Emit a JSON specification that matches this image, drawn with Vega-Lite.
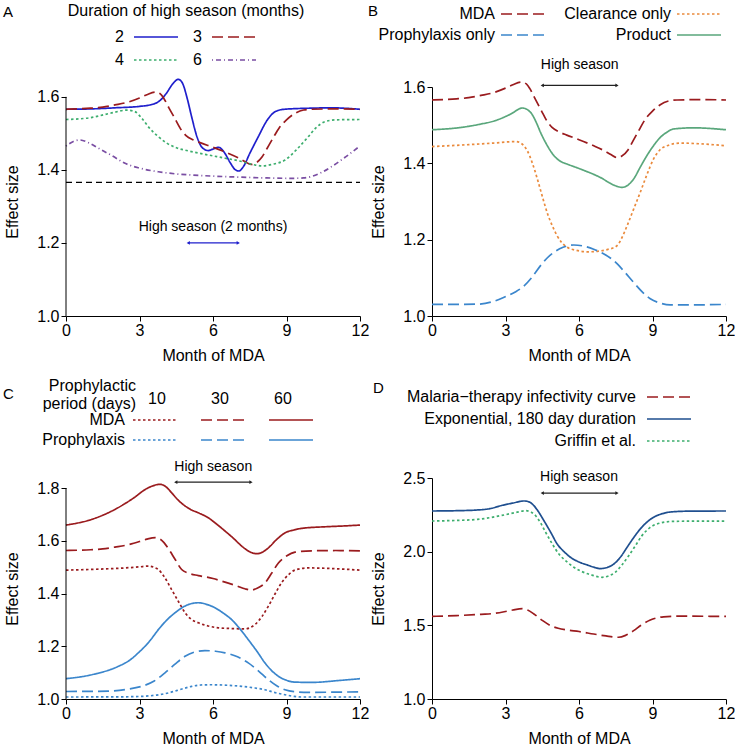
{
"$schema": "https://vega.github.io/schema/vega-lite/v6.json",
"background": "white",
"padding": {"left": 3, "top": 3, "right": 0, "bottom": 0},
"config": {
  "font": "Liberation Sans",
  "view": {"stroke": null},
  "axis": {"grid": false, "domainColor": "#000", "tickColor": "#000", "labelColor": "#000", "titleColor": "#000", "labelFontSize": 16, "titleFontSize": 16, "titleFontWeight": "normal", "tickSize": 5, "domainWidth": 1, "tickWidth": 1, "labelFlush": false, "labelOverlap": false},
  "axisX": {"labelPadding": 1, "titlePadding": 9},
  "axisY": {"labelPadding": 2, "titlePadding": 16},
  "legend": {"labelFontSize": 16, "titleFontSize": 16, "titleFontWeight": "normal", "labelColor": "#000", "titleColor": "#000", "symbolSize": 121, "symbolType": "M-4,0H4", "symbolOffset": 6, "symbolStrokeWidth": 1.6, "labelLimit": 0, "titleLimit": 0, "labelAlign": "right", "labelOffset": -40, "rowPadding": 6, "columnPadding": 17},
  "title": {"fontSize": 15, "fontWeight": "normal", "anchor": "start", "frame": "group", "color": "#000"}
},
"resolve": {
  "scale": {"color": "independent", "strokeDash": "independent", "strokeWidth": "independent", "shape": "independent"},
  "legend": {"color": "independent", "strokeDash": "independent", "strokeWidth": "independent", "shape": "independent"}
},
"datasets": {
"a": [
{"s":"2","m":0,"v":1.566},{"s":"2","m":1,"v":1.567},{"s":"2","m":2,"v":1.570},{"s":"2","m":3,"v":1.574},{"s":"2","m":3.5,"v":1.579},{"s":"2","m":3.8,"v":1.588},{"s":"2","m":4.1,"v":1.610},{"s":"2","m":4.35,"v":1.635},{"s":"2","m":4.58,"v":1.648},{"s":"2","m":4.75,"v":1.638},{"s":"2","m":4.95,"v":1.595},{"s":"2","m":5.13,"v":1.545},{"s":"2","m":5.35,"v":1.490},{"s":"2","m":5.55,"v":1.462},{"s":"2","m":5.8,"v":1.453},{"s":"2","m":6.0,"v":1.457},{"s":"2","m":6.22,"v":1.462},{"s":"2","m":6.45,"v":1.449},{"s":"2","m":6.7,"v":1.420},{"s":"2","m":6.9,"v":1.401},{"s":"2","m":7.05,"v":1.397},{"s":"2","m":7.25,"v":1.410},{"s":"2","m":7.5,"v":1.445},{"s":"2","m":7.85,"v":1.491},{"s":"2","m":8.2,"v":1.535},{"s":"2","m":8.53,"v":1.559},{"s":"2","m":8.9,"v":1.566},{"s":"2","m":10,"v":1.569},{"s":"2","m":10.8,"v":1.570},{"s":"2","m":12,"v":1.566},
{"s":"3","m":0,"v":1.566},{"s":"3","m":1,"v":1.569},{"s":"3","m":1.5,"v":1.572},{"s":"3","m":2,"v":1.578},{"s":"3","m":2.5,"v":1.585},{"s":"3","m":3,"v":1.597},{"s":"3","m":3.3,"v":1.606},{"s":"3","m":3.65,"v":1.613},{"s":"3","m":3.85,"v":1.608},{"s":"3","m":4.0,"v":1.595},{"s":"3","m":4.2,"v":1.570},{"s":"3","m":4.45,"v":1.540},{"s":"3","m":4.7,"v":1.510},{"s":"3","m":4.9,"v":1.494},{"s":"3","m":5.2,"v":1.482},{"s":"3","m":5.5,"v":1.474},{"s":"3","m":6.0,"v":1.462},{"s":"3","m":6.6,"v":1.446},{"s":"3","m":7.0,"v":1.434},{"s":"3","m":7.3,"v":1.423},{"s":"3","m":7.55,"v":1.415},{"s":"3","m":7.75,"v":1.419},{"s":"3","m":8.0,"v":1.435},{"s":"3","m":8.2,"v":1.458},{"s":"3","m":8.45,"v":1.487},{"s":"3","m":8.7,"v":1.515},{"s":"3","m":9.0,"v":1.537},{"s":"3","m":9.3,"v":1.553},{"s":"3","m":9.7,"v":1.564},{"s":"3","m":10,"v":1.566},{"s":"3","m":11,"v":1.567},{"s":"3","m":12,"v":1.566},
{"s":"4","m":0,"v":1.538},{"s":"4","m":1.0,"v":1.543},{"s":"4","m":1.8,"v":1.555},{"s":"4","m":2.5,"v":1.5637},{"s":"4","m":2.8,"v":1.560},{"s":"4","m":3.1,"v":1.541},{"s":"4","m":3.4,"v":1.515},{"s":"4","m":3.77,"v":1.491},{"s":"4","m":4.1,"v":1.474},{"s":"4","m":4.45,"v":1.462},{"s":"4","m":5.0,"v":1.452},{"s":"4","m":5.8,"v":1.441},{"s":"4","m":6.5,"v":1.432},{"s":"4","m":7.17,"v":1.423},{"s":"4","m":7.6,"v":1.415},{"s":"4","m":8.0,"v":1.411},{"s":"4","m":8.4,"v":1.415},{"s":"4","m":8.94,"v":1.427},{"s":"4","m":9.4,"v":1.455},{"s":"4","m":9.89,"v":1.491},{"s":"4","m":10.2,"v":1.515},{"s":"4","m":10.57,"v":1.532},{"s":"4","m":11,"v":1.537},{"s":"4","m":12,"v":1.538},
{"s":"6","m":0,"v":1.4655},{"s":"6","m":0.3,"v":1.478},{"s":"6","m":0.57,"v":1.482},{"s":"6","m":0.9,"v":1.475},{"s":"6","m":1.33,"v":1.459},{"s":"6","m":1.9,"v":1.438},{"s":"6","m":2.41,"v":1.418},{"s":"6","m":3.0,"v":1.405},{"s":"6","m":3.77,"v":1.395},{"s":"6","m":4.5,"v":1.389},{"s":"6","m":5.13,"v":1.386},{"s":"6","m":6.0,"v":1.383},{"s":"6","m":7.17,"v":1.380},{"s":"6","m":8.2,"v":1.378},{"s":"6","m":9.21,"v":1.377},{"s":"6","m":9.7,"v":1.378},{"s":"6","m":10.02,"v":1.382},{"s":"6","m":10.4,"v":1.392},{"s":"6","m":10.84,"v":1.409},{"s":"6","m":11.4,"v":1.435},{"s":"6","m":12,"v":1.4655}
],
"b": [
{"s":"MDA","m":0,"v":1.566},{"s":"MDA","m":1,"v":1.569},{"s":"MDA","m":1.5,"v":1.572},{"s":"MDA","m":2,"v":1.578},{"s":"MDA","m":2.5,"v":1.585},{"s":"MDA","m":3,"v":1.597},{"s":"MDA","m":3.3,"v":1.606},{"s":"MDA","m":3.65,"v":1.613},{"s":"MDA","m":3.85,"v":1.608},{"s":"MDA","m":4.0,"v":1.595},{"s":"MDA","m":4.2,"v":1.570},{"s":"MDA","m":4.45,"v":1.540},{"s":"MDA","m":4.7,"v":1.510},{"s":"MDA","m":4.9,"v":1.494},{"s":"MDA","m":5.2,"v":1.482},{"s":"MDA","m":5.5,"v":1.474},{"s":"MDA","m":6.0,"v":1.462},{"s":"MDA","m":6.6,"v":1.446},{"s":"MDA","m":7.0,"v":1.434},{"s":"MDA","m":7.3,"v":1.423},{"s":"MDA","m":7.55,"v":1.415},{"s":"MDA","m":7.75,"v":1.419},{"s":"MDA","m":8.0,"v":1.435},{"s":"MDA","m":8.2,"v":1.458},{"s":"MDA","m":8.45,"v":1.487},{"s":"MDA","m":8.7,"v":1.515},{"s":"MDA","m":9.0,"v":1.537},{"s":"MDA","m":9.3,"v":1.553},{"s":"MDA","m":9.7,"v":1.564},{"s":"MDA","m":10,"v":1.566},{"s":"MDA","m":11,"v":1.567},{"s":"MDA","m":12,"v":1.566},
{"s":"Clearance only","m":0,"v":1.444},{"s":"Clearance only","m":1.5,"v":1.449},{"s":"Clearance only","m":2.5,"v":1.453},{"s":"Clearance only","m":3.42,"v":1.457},{"s":"Clearance only","m":3.65,"v":1.452},{"s":"Clearance only","m":3.89,"v":1.433},{"s":"Clearance only","m":4.1,"v":1.400},{"s":"Clearance only","m":4.3,"v":1.359},{"s":"Clearance only","m":4.5,"v":1.314},{"s":"Clearance only","m":4.7,"v":1.271},{"s":"Clearance only","m":4.9,"v":1.238},{"s":"Clearance only","m":5.11,"v":1.21},{"s":"Clearance only","m":5.3,"v":1.192},{"s":"Clearance only","m":5.52,"v":1.18},{"s":"Clearance only","m":5.9,"v":1.172},{"s":"Clearance only","m":6.33,"v":1.168},{"s":"Clearance only","m":6.8,"v":1.170},{"s":"Clearance only","m":7.15,"v":1.174},{"s":"Clearance only","m":7.55,"v":1.184},{"s":"Clearance only","m":7.75,"v":1.205},{"s":"Clearance only","m":7.96,"v":1.236},{"s":"Clearance only","m":8.23,"v":1.28},{"s":"Clearance only","m":8.5,"v":1.324},{"s":"Clearance only","m":8.77,"v":1.37},{"s":"Clearance only","m":9.04,"v":1.411},{"s":"Clearance only","m":9.3,"v":1.435},{"s":"Clearance only","m":9.59,"v":1.446},{"s":"Clearance only","m":10.13,"v":1.453},{"s":"Clearance only","m":11,"v":1.451},{"s":"Clearance only","m":12,"v":1.446},
{"s":"Prophylaxis only","m":0,"v":1.0305},{"s":"Prophylaxis only","m":1,"v":1.0305},{"s":"Prophylaxis only","m":1.86,"v":1.031},{"s":"Prophylaxis only","m":2.5,"v":1.038},{"s":"Prophylaxis only","m":2.94,"v":1.049},{"s":"Prophylaxis only","m":3.4,"v":1.063},{"s":"Prophylaxis only","m":3.76,"v":1.079},{"s":"Prophylaxis only","m":4.1,"v":1.103},{"s":"Prophylaxis only","m":4.43,"v":1.132},{"s":"Prophylaxis only","m":4.7,"v":1.152},{"s":"Prophylaxis only","m":4.98,"v":1.167},{"s":"Prophylaxis only","m":5.35,"v":1.180},{"s":"Prophylaxis only","m":5.79,"v":1.186},{"s":"Prophylaxis only","m":6.2,"v":1.183},{"s":"Prophylaxis only","m":6.6,"v":1.175},{"s":"Prophylaxis only","m":7.0,"v":1.163},{"s":"Prophylaxis only","m":7.42,"v":1.145},{"s":"Prophylaxis only","m":7.8,"v":1.12},{"s":"Prophylaxis only","m":8.23,"v":1.088},{"s":"Prophylaxis only","m":8.6,"v":1.062},{"s":"Prophylaxis only","m":8.91,"v":1.045},{"s":"Prophylaxis only","m":9.3,"v":1.034},{"s":"Prophylaxis only","m":9.72,"v":1.029},{"s":"Prophylaxis only","m":10.5,"v":1.029},{"s":"Prophylaxis only","m":12,"v":1.0305},
{"s":"Product","m":0,"v":1.488},{"s":"Product","m":1.18,"v":1.494},{"s":"Product","m":2.0,"v":1.503},{"s":"Product","m":2.54,"v":1.511},{"s":"Product","m":3.21,"v":1.529},{"s":"Product","m":3.69,"v":1.545},{"s":"Product","m":4.03,"v":1.533},{"s":"Product","m":4.25,"v":1.508},{"s":"Product","m":4.43,"v":1.481},{"s":"Product","m":4.7,"v":1.447},{"s":"Product","m":4.98,"v":1.42},{"s":"Product","m":5.25,"v":1.405},{"s":"Product","m":5.52,"v":1.398},{"s":"Product","m":6.06,"v":1.385},{"s":"Product","m":6.87,"v":1.363},{"s":"Product","m":7.42,"v":1.343},{"s":"Product","m":7.76,"v":1.337},{"s":"Product","m":8.0,"v":1.343},{"s":"Product","m":8.23,"v":1.359},{"s":"Product","m":8.5,"v":1.39},{"s":"Product","m":8.77,"v":1.42},{"s":"Product","m":9.05,"v":1.447},{"s":"Product","m":9.32,"v":1.468},{"s":"Product","m":9.6,"v":1.482},{"s":"Product","m":9.86,"v":1.49},{"s":"Product","m":10.67,"v":1.493},{"s":"Product","m":12,"v":1.488}
],
"c": [
{"k":"MDA-60","p":"60","m":0,"v":1.6595},{"k":"MDA-60","p":"60","m":1.05,"v":1.681},{"k":"MDA-60","p":"60","m":2.0,"v":1.719},{"k":"MDA-60","p":"60","m":2.68,"v":1.757},{"k":"MDA-60","p":"60","m":3.36,"v":1.801},{"k":"MDA-60","p":"60","m":3.84,"v":1.814},{"k":"MDA-60","p":"60","m":4.1,"v":1.803},{"k":"MDA-60","p":"60","m":4.31,"v":1.782},{"k":"MDA-60","p":"60","m":4.6,"v":1.752},{"k":"MDA-60","p":"60","m":4.86,"v":1.732},{"k":"MDA-60","p":"60","m":5.1,"v":1.718},{"k":"MDA-60","p":"60","m":5.4,"v":1.706},{"k":"MDA-60","p":"60","m":5.81,"v":1.687},{"k":"MDA-60","p":"60","m":6.15,"v":1.663},{"k":"MDA-60","p":"60","m":6.49,"v":1.637},{"k":"MDA-60","p":"60","m":6.85,"v":1.608},{"k":"MDA-60","p":"60","m":7.17,"v":1.58},{"k":"MDA-60","p":"60","m":7.5,"v":1.558},{"k":"MDA-60","p":"60","m":7.78,"v":1.551},{"k":"MDA-60","p":"60","m":8.0,"v":1.556},{"k":"MDA-60","p":"60","m":8.26,"v":1.573},{"k":"MDA-60","p":"60","m":8.6,"v":1.605},{"k":"MDA-60","p":"60","m":8.94,"v":1.63},{"k":"MDA-60","p":"60","m":9.3,"v":1.641},{"k":"MDA-60","p":"60","m":9.62,"v":1.647},{"k":"MDA-60","p":"60","m":10.57,"v":1.653},{"k":"MDA-60","p":"60","m":11.3,"v":1.656},{"k":"MDA-60","p":"60","m":12,"v":1.6595},
{"k":"MDA-30","p":"30","m":0,"v":1.563},{"k":"MDA-30","p":"30","m":1,"v":1.566},{"k":"MDA-30","p":"30","m":1.5,"v":1.569},{"k":"MDA-30","p":"30","m":2,"v":1.576},{"k":"MDA-30","p":"30","m":2.5,"v":1.584},{"k":"MDA-30","p":"30","m":3,"v":1.597},{"k":"MDA-30","p":"30","m":3.3,"v":1.606},{"k":"MDA-30","p":"30","m":3.65,"v":1.612},{"k":"MDA-30","p":"30","m":3.85,"v":1.606},{"k":"MDA-30","p":"30","m":4.0,"v":1.593},{"k":"MDA-30","p":"30","m":4.2,"v":1.567},{"k":"MDA-30","p":"30","m":4.45,"v":1.530},{"k":"MDA-30","p":"30","m":4.72,"v":1.491},{"k":"MDA-30","p":"30","m":5.0,"v":1.477},{"k":"MDA-30","p":"30","m":5.4,"v":1.468},{"k":"MDA-30","p":"30","m":6.0,"v":1.457},{"k":"MDA-30","p":"30","m":6.49,"v":1.443},{"k":"MDA-30","p":"30","m":7.0,"v":1.428},{"k":"MDA-30","p":"30","m":7.3,"v":1.418},{"k":"MDA-30","p":"30","m":7.55,"v":1.413},{"k":"MDA-30","p":"30","m":7.8,"v":1.420},{"k":"MDA-30","p":"30","m":8.12,"v":1.44},{"k":"MDA-30","p":"30","m":8.4,"v":1.478},{"k":"MDA-30","p":"30","m":8.67,"v":1.516},{"k":"MDA-30","p":"30","m":9.0,"v":1.542},{"k":"MDA-30","p":"30","m":9.35,"v":1.557},{"k":"MDA-30","p":"30","m":10.03,"v":1.562},{"k":"MDA-30","p":"30","m":11,"v":1.563},{"k":"MDA-30","p":"30","m":12,"v":1.562},
{"k":"MDA-10","p":"10","m":0,"v":1.4886},{"k":"MDA-10","p":"10","m":1.2,"v":1.492},{"k":"MDA-10","p":"10","m":2.41,"v":1.497},{"k":"MDA-10","p":"10","m":3.0,"v":1.501},{"k":"MDA-10","p":"10","m":3.36,"v":1.504},{"k":"MDA-10","p":"10","m":3.6,"v":1.499},{"k":"MDA-10","p":"10","m":3.77,"v":1.491},{"k":"MDA-10","p":"10","m":4.0,"v":1.465},{"k":"MDA-10","p":"10","m":4.31,"v":1.415},{"k":"MDA-10","p":"10","m":4.6,"v":1.368},{"k":"MDA-10","p":"10","m":4.86,"v":1.327},{"k":"MDA-10","p":"10","m":5.1,"v":1.303},{"k":"MDA-10","p":"10","m":5.4,"v":1.289},{"k":"MDA-10","p":"10","m":5.8,"v":1.277},{"k":"MDA-10","p":"10","m":6.22,"v":1.27},{"k":"MDA-10","p":"10","m":6.8,"v":1.267},{"k":"MDA-10","p":"10","m":7.31,"v":1.266},{"k":"MDA-10","p":"10","m":7.5,"v":1.270},{"k":"MDA-10","p":"10","m":7.71,"v":1.282},{"k":"MDA-10","p":"10","m":8.0,"v":1.313},{"k":"MDA-10","p":"10","m":8.26,"v":1.352},{"k":"MDA-10","p":"10","m":8.53,"v":1.398},{"k":"MDA-10","p":"10","m":8.8,"v":1.441},{"k":"MDA-10","p":"10","m":9.1,"v":1.473},{"k":"MDA-10","p":"10","m":9.35,"v":1.489},{"k":"MDA-10","p":"10","m":9.89,"v":1.497},{"k":"MDA-10","p":"10","m":11,"v":1.494},{"k":"MDA-10","p":"10","m":12,"v":1.4886},
{"k":"Pro-60","p":"60","m":0,"v":1.077},{"k":"Pro-60","p":"60","m":1.05,"v":1.092},{"k":"Pro-60","p":"60","m":2.14,"v":1.124},{"k":"Pro-60","p":"60","m":2.6,"v":1.147},{"k":"Pro-60","p":"60","m":2.95,"v":1.175},{"k":"Pro-60","p":"60","m":3.4,"v":1.218},{"k":"Pro-60","p":"60","m":3.77,"v":1.263},{"k":"Pro-60","p":"60","m":4.1,"v":1.298},{"k":"Pro-60","p":"60","m":4.45,"v":1.327},{"k":"Pro-60","p":"60","m":4.99,"v":1.358},{"k":"Pro-60","p":"60","m":5.4,"v":1.365},{"k":"Pro-60","p":"60","m":5.7,"v":1.360},{"k":"Pro-60","p":"60","m":6.08,"v":1.346},{"k":"Pro-60","p":"60","m":6.4,"v":1.327},{"k":"Pro-60","p":"60","m":6.76,"v":1.301},{"k":"Pro-60","p":"60","m":7.1,"v":1.266},{"k":"Pro-60","p":"60","m":7.44,"v":1.225},{"k":"Pro-60","p":"60","m":7.8,"v":1.180},{"k":"Pro-60","p":"60","m":8.12,"v":1.137},{"k":"Pro-60","p":"60","m":8.4,"v":1.107},{"k":"Pro-60","p":"60","m":8.67,"v":1.086},{"k":"Pro-60","p":"60","m":9.0,"v":1.071},{"k":"Pro-60","p":"60","m":9.35,"v":1.064},{"k":"Pro-60","p":"60","m":10.03,"v":1.063},{"k":"Pro-60","p":"60","m":11.25,"v":1.071},{"k":"Pro-60","p":"60","m":12,"v":1.077},
{"k":"Pro-30","p":"30","m":0,"v":1.0285},{"k":"Pro-30","p":"30","m":1,"v":1.029},{"k":"Pro-30","p":"30","m":1.73,"v":1.030},{"k":"Pro-30","p":"30","m":2.5,"v":1.037},{"k":"Pro-30","p":"30","m":3.09,"v":1.048},{"k":"Pro-30","p":"30","m":3.6,"v":1.068},{"k":"Pro-30","p":"30","m":4.04,"v":1.099},{"k":"Pro-30","p":"30","m":4.45,"v":1.132},{"k":"Pro-30","p":"30","m":4.86,"v":1.162},{"k":"Pro-30","p":"30","m":5.25,"v":1.178},{"k":"Pro-30","p":"30","m":5.67,"v":1.1835},{"k":"Pro-30","p":"30","m":6.1,"v":1.181},{"k":"Pro-30","p":"30","m":6.49,"v":1.175},{"k":"Pro-30","p":"30","m":7.0,"v":1.160},{"k":"Pro-30","p":"30","m":7.44,"v":1.137},{"k":"Pro-30","p":"30","m":7.85,"v":1.107},{"k":"Pro-30","p":"30","m":8.26,"v":1.073},{"k":"Pro-30","p":"30","m":8.6,"v":1.050},{"k":"Pro-30","p":"30","m":8.94,"v":1.035},{"k":"Pro-30","p":"30","m":9.4,"v":1.027},{"k":"Pro-30","p":"30","m":9.89,"v":1.025},{"k":"Pro-30","p":"30","m":11,"v":1.026},{"k":"Pro-30","p":"30","m":12,"v":1.027},
{"k":"Pro-10","p":"10","m":0,"v":1.0076},{"k":"Pro-10","p":"10","m":2.0,"v":1.008},{"k":"Pro-10","p":"10","m":3.09,"v":1.01},{"k":"Pro-10","p":"10","m":3.7,"v":1.015},{"k":"Pro-10","p":"10","m":4.18,"v":1.023},{"k":"Pro-10","p":"10","m":4.7,"v":1.037},{"k":"Pro-10","p":"10","m":5.13,"v":1.048},{"k":"Pro-10","p":"10","m":5.5,"v":1.053},{"k":"Pro-10","p":"10","m":5.95,"v":1.054},{"k":"Pro-10","p":"10","m":6.6,"v":1.052},{"k":"Pro-10","p":"10","m":7.17,"v":1.048},{"k":"Pro-10","p":"10","m":7.7,"v":1.042},{"k":"Pro-10","p":"10","m":8.12,"v":1.035},{"k":"Pro-10","p":"10","m":8.5,"v":1.025},{"k":"Pro-10","p":"10","m":8.94,"v":1.016},{"k":"Pro-10","p":"10","m":9.3,"v":1.010},{"k":"Pro-10","p":"10","m":9.62,"v":1.0076},{"k":"Pro-10","p":"10","m":12,"v":1.0076}
],
"d": [
{"s":"Exponential, 180 day duration","m":0,"v":2.276},{"s":"Exponential, 180 day duration","m":1.0,"v":2.278},{"s":"Exponential, 180 day duration","m":1.86,"v":2.283},{"s":"Exponential, 180 day duration","m":2.4,"v":2.293},{"s":"Exponential, 180 day duration","m":2.81,"v":2.312},{"s":"Exponential, 180 day duration","m":3.3,"v":2.330},{"s":"Exponential, 180 day duration","m":3.76,"v":2.344},{"s":"Exponential, 180 day duration","m":4.0,"v":2.335},{"s":"Exponential, 180 day duration","m":4.16,"v":2.312},{"s":"Exponential, 180 day duration","m":4.35,"v":2.27},{"s":"Exponential, 180 day duration","m":4.57,"v":2.21},{"s":"Exponential, 180 day duration","m":4.85,"v":2.13},{"s":"Exponential, 180 day duration","m":5.11,"v":2.052},{"s":"Exponential, 180 day duration","m":5.4,"v":1.998},{"s":"Exponential, 180 day duration","m":5.65,"v":1.962},{"s":"Exponential, 180 day duration","m":6.0,"v":1.930},{"s":"Exponential, 180 day duration","m":6.33,"v":1.91},{"s":"Exponential, 180 day duration","m":6.6,"v":1.895},{"s":"Exponential, 180 day duration","m":6.87,"v":1.885},{"s":"Exponential, 180 day duration","m":7.15,"v":1.893},{"s":"Exponential, 180 day duration","m":7.42,"v":1.916},{"s":"Exponential, 180 day duration","m":7.7,"v":1.965},{"s":"Exponential, 180 day duration","m":7.96,"v":2.029},{"s":"Exponential, 180 day duration","m":8.23,"v":2.095},{"s":"Exponential, 180 day duration","m":8.5,"v":2.154},{"s":"Exponential, 180 day duration","m":8.77,"v":2.2},{"s":"Exponential, 180 day duration","m":9.04,"v":2.233},{"s":"Exponential, 180 day duration","m":9.4,"v":2.258},{"s":"Exponential, 180 day duration","m":9.72,"v":2.269},{"s":"Exponential, 180 day duration","m":10.5,"v":2.275},{"s":"Exponential, 180 day duration","m":12,"v":2.276},
{"s":"Griffin et al.","m":0,"v":2.208},{"s":"Griffin et al.","m":1.0,"v":2.212},{"s":"Griffin et al.","m":1.86,"v":2.219},{"s":"Griffin et al.","m":2.94,"v":2.249},{"s":"Griffin et al.","m":3.4,"v":2.265},{"s":"Griffin et al.","m":3.82,"v":2.278},{"s":"Griffin et al.","m":4.05,"v":2.268},{"s":"Griffin et al.","m":4.23,"v":2.244},{"s":"Griffin et al.","m":4.45,"v":2.19},{"s":"Griffin et al.","m":4.64,"v":2.131},{"s":"Griffin et al.","m":4.9,"v":2.055},{"s":"Griffin et al.","m":5.18,"v":1.984},{"s":"Griffin et al.","m":5.5,"v":1.932},{"s":"Griffin et al.","m":5.79,"v":1.894},{"s":"Griffin et al.","m":6.1,"v":1.866},{"s":"Griffin et al.","m":6.47,"v":1.844},{"s":"Griffin et al.","m":6.94,"v":1.826},{"s":"Griffin et al.","m":7.2,"v":1.835},{"s":"Griffin et al.","m":7.48,"v":1.86},{"s":"Griffin et al.","m":7.75,"v":1.91},{"s":"Griffin et al.","m":8.03,"v":1.973},{"s":"Griffin et al.","m":8.3,"v":2.04},{"s":"Griffin et al.","m":8.57,"v":2.109},{"s":"Griffin et al.","m":8.87,"v":2.16},{"s":"Griffin et al.","m":9.18,"v":2.188},{"s":"Griffin et al.","m":9.86,"v":2.206},{"s":"Griffin et al.","m":12,"v":2.208},
{"s":"Malaria−therapy infectivity curve","m":0,"v":1.561},{"s":"Malaria−therapy infectivity curve","m":1,"v":1.566},{"s":"Malaria−therapy infectivity curve","m":2,"v":1.575},{"s":"Malaria−therapy infectivity curve","m":2.54,"v":1.581},{"s":"Malaria−therapy infectivity curve","m":3,"v":1.594},{"s":"Malaria−therapy infectivity curve","m":3.3,"v":1.604},{"s":"Malaria−therapy infectivity curve","m":3.69,"v":1.613},{"s":"Malaria−therapy infectivity curve","m":3.9,"v":1.604},{"s":"Malaria−therapy infectivity curve","m":4.16,"v":1.577},{"s":"Malaria−therapy infectivity curve","m":4.5,"v":1.534},{"s":"Malaria−therapy infectivity curve","m":4.84,"v":1.498},{"s":"Malaria−therapy infectivity curve","m":5.15,"v":1.480},{"s":"Malaria−therapy infectivity curve","m":5.52,"v":1.468},{"s":"Malaria−therapy infectivity curve","m":6.0,"v":1.458},{"s":"Malaria−therapy infectivity curve","m":6.6,"v":1.441},{"s":"Malaria−therapy infectivity curve","m":7.1,"v":1.428},{"s":"Malaria−therapy infectivity curve","m":7.62,"v":1.419},{"s":"Malaria−therapy infectivity curve","m":7.9,"v":1.432},{"s":"Malaria−therapy infectivity curve","m":8.23,"v":1.464},{"s":"Malaria−therapy infectivity curve","m":8.55,"v":1.503},{"s":"Malaria−therapy infectivity curve","m":8.91,"v":1.536},{"s":"Malaria−therapy infectivity curve","m":9.45,"v":1.558},{"s":"Malaria−therapy infectivity curve","m":10,"v":1.562},{"s":"Malaria−therapy infectivity curve","m":12,"v":1.561}
]
},
"columns": 2,
"spacing": {"column": -1, "row": 18},
"concat": [
{
  "title": {"text": "A", "dx": -63, "offset": -17},
  "width": 294, "height": 229,
  "encoding": {
    "x": {"field": "m", "type": "quantitative", "scale": {"domain": [0, 12], "nice": false, "zero": false}, "axis": {"values": [0, 3, 6, 9, 12], "format": "d", "title": "Month of MDA"}},
    "y": {"field": "v", "type": "quantitative", "scale": {"domain": [1, 1.627], "nice": false, "zero": false}, "axis": {"values": [1, 1.2, 1.4, 1.6], "format": ".1f", "title": "Effect size", "domain": false}}
  },
  "layer": [
    {"data": {"name": "a"}, "mark": {"type": "line", "interpolate": "monotone", "strokeWidth": 1.7},
     "encoding": {
       "color": {"field": "s", "type": "nominal", "scale": {"domain": ["2", "3", "4", "6"], "range": ["#1f1fcc", "#9a1b1e", "#3dae6e", "#7a4ea3"]},
         "legend": {"orient": "none", "legendX": 2, "legendY": -84, "direction": "horizontal", "columns": 2, "title": "Duration of high season (months)", "titleAnchor": "middle", "titlePadding": 10, "columnPadding": 11, "rowPadding": 7,
           "encode": {"title": {"update": {"dx": {"value": -15}}}}}},
       "strokeDash": {"field": "s", "type": "nominal", "scale": {"domain": ["2", "3", "4", "6"], "range": [[1, 0], [11, 5], [2.5, 2.5], [1, 3, 5, 3]]}}
     }},
    {"data": {"values": [{"m": 0, "v": 1, "v2": 1.6}]}, "mark": {"type": "rule", "color": "#000", "strokeWidth": 1}, "encoding": {"y2": {"field": "v2"}}},
    {"data": {"values": [{"m": 0, "m2": 12, "v": 1.366}]}, "mark": {"type": "rule", "color": "#000", "strokeWidth": 1.2, "strokeDash": [6, 4]}, "encoding": {"x2": {"field": "m2"}}},
    {"data": {"values": [{"m": 4.99, "m2": 7.03, "v": 1.2}]}, "mark": {"type": "rule", "color": "#1f1fcc", "strokeWidth": 1.3}, "encoding": {"x2": {"field": "m2"}}},
    {"data": {"values": [{"m": 4.99, "v": 1.2, "e": "l"}, {"m": 7.03, "v": 1.2, "e": "r"}]}, "mark": {"type": "point", "filled": true, "color": "#1f1fcc", "size": 14, "opacity": 1},
     "encoding": {"shape": {"field": "e", "type": "nominal", "scale": {"domain": ["l", "r"], "range": ["triangle-left", "triangle-right"]}, "legend": null}}},
    {"data": {"values": [{"m": 6.0, "v": 1.245, "t": "High season (2 months)"}]}, "mark": {"type": "text", "fontSize": 14, "color": "#000"}, "encoding": {"text": {"field": "t"}}}
  ]
},
{
  "title": {"text": "B", "dx": -64, "offset": -13},
  "width": 294, "height": 229,
  "encoding": {
    "x": {"field": "m", "type": "quantitative", "scale": {"domain": [0, 12], "nice": false, "zero": false}, "axis": {"values": [0, 3, 6, 9, 12], "format": "d", "title": "Month of MDA"}},
    "y": {"field": "v", "type": "quantitative", "scale": {"domain": [1, 1.6], "nice": false, "zero": false}, "axis": {"values": [1, 1.2, 1.4, 1.6], "format": ".1f", "title": "Effect size"}}
  },
  "layer": [
    {"data": {"name": "b"}, "mark": {"type": "line", "interpolate": "monotone", "strokeWidth": 1.7},
     "encoding": {
       "color": {"field": "s", "type": "nominal", "scale": {"domain": ["MDA", "Clearance only", "Prophylaxis only", "Product"], "range": ["#9a1b1e", "#ea8a3c", "#3b86cc", "#5aa77c"]},
         "legend": {"orient": "none", "legendX": 77, "legendY": -81, "direction": "horizontal", "columns": 2, "title": null, "labelOffset": -36, "columnPadding": 15, "rowPadding": 5}},
       "strokeDash": {"field": "s", "type": "nominal", "scale": {"domain": ["MDA", "Clearance only", "Prophylaxis only", "Product"], "range": [[11, 5], [2.5, 2.5], [11, 5], [1, 0]]}}
     }},
    {"data": {"values": [{"m": 4.5, "m2": 7.55, "v": 1.604}]}, "mark": {"type": "rule", "color": "#222", "strokeWidth": 1.3}, "encoding": {"x2": {"field": "m2"}}},
    {"data": {"values": [{"m": 4.5, "v": 1.604, "e": "l"}, {"m": 7.55, "v": 1.604, "e": "r"}]}, "mark": {"type": "point", "filled": true, "color": "#222", "size": 14, "opacity": 1},
     "encoding": {"shape": {"field": "e", "type": "nominal", "scale": {"domain": ["l", "r"], "range": ["triangle-left", "triangle-right"]}, "legend": null}}},
    {"data": {"values": [{"m": 6.03, "v": 1.657, "t": "High season"}]}, "mark": {"type": "text", "fontSize": 14, "color": "#000"}, "encoding": {"text": {"field": "t"}}}
  ]
},
{
  "title": {"text": "C", "dx": -63, "offset": -19},
  "width": 294, "height": 221,
  "encoding": {
    "x": {"field": "m", "type": "quantitative", "scale": {"domain": [0, 12], "nice": false, "zero": false}, "axis": {"values": [0, 3, 6, 9, 12], "format": "d", "title": "Month of MDA"}},
    "y": {"field": "v", "type": "quantitative", "scale": {"domain": [1, 1.838], "nice": false, "zero": false}, "axis": {"values": [1, 1.2, 1.4, 1.6, 1.8], "format": ".1f", "title": "Effect size", "domain": false}}
  },
  "layer": [
    {"data": {"name": "c"}, "mark": {"type": "line", "interpolate": "monotone"},
     "encoding": {
       "color": {"field": "k", "type": "nominal", "scale": {"domain": ["MDA-10", "MDA-30", "MDA-60", "Pro-10", "Pro-30", "Pro-60"], "range": ["#9a1b1e", "#9a1b1e", "#9a1b1e", "#3b86cc", "#3b86cc", "#3b86cc"]},
         "legend": {"orient": "none", "legendX": 75, "legendY": -66, "direction": "horizontal", "columns": 3, "title": null, "labelExpr": "datum.value == 'MDA-10' ? 'MDA' : datum.value == 'Pro-10' ? 'Prophylaxis' : ''", "labelOffset": -38, "columnPadding": 12, "rowPadding": 4}},
       "strokeDash": {"field": "k", "type": "nominal", "scale": {"domain": ["MDA-10", "MDA-30", "MDA-60", "Pro-10", "Pro-30", "Pro-60"], "range": [[2.5, 2.5], [11, 5], [1, 0], [2.5, 2.5], [11, 5], [1, 0]]}},
       "strokeWidth": {"field": "p", "type": "ordinal", "scale": {"type": "ordinal", "domain": ["10", "30", "60"], "range": [1.7, 1.7, 1.7]},
         "legend": {"orient": "none", "legendX": -23, "legendY": -95, "direction": "horizontal", "columns": 3, "title": ["Prophylactic", "period (days)"], "titleOrient": "left", "titleAlign": "right", "titlePadding": -97, "titleLineHeight": 18, "labelAlign": "center", "labelOffset": 2, "symbolOpacity": 0, "columnPadding": 19,
           "encode": {"labels": {"update": {"dy": {"value": 8}}}}}}
     }},
    {"data": {"values": [{"m": 0, "v": 1, "v2": 1.8}]}, "mark": {"type": "rule", "color": "#000", "strokeWidth": 1}, "encoding": {"y2": {"field": "v2"}}},
    {"data": {"values": [{"m": 4.48, "m2": 7.55, "v": 1.822}]}, "mark": {"type": "rule", "color": "#222", "strokeWidth": 1.3}, "encoding": {"x2": {"field": "m2"}}},
    {"data": {"values": [{"m": 4.48, "v": 1.822, "e": "l"}, {"m": 7.55, "v": 1.822, "e": "r"}]}, "mark": {"type": "point", "filled": true, "color": "#222", "size": 14, "opacity": 1},
     "encoding": {"shape": {"field": "e", "type": "nominal", "scale": {"domain": ["l", "r"], "range": ["triangle-left", "triangle-right"]}, "legend": null}}},
    {"data": {"values": [{"m": 6.01, "v": 1.879, "t": "High season"}]}, "mark": {"type": "text", "fontSize": 14, "color": "#000"}, "encoding": {"text": {"field": "t"}}}
  ]
},
{
  "title": {"text": "D", "dx": -59, "offset": -7},
  "width": 294, "height": 221,
  "encoding": {
    "x": {"field": "m", "type": "quantitative", "scale": {"domain": [0, 12], "nice": false, "zero": false}, "axis": {"values": [0, 3, 6, 9, 12], "format": "d", "title": "Month of MDA"}},
    "y": {"field": "v", "type": "quantitative", "scale": {"domain": [1, 2.5], "nice": false, "zero": false}, "axis": {"values": [1, 1.5, 2, 2.5], "format": ".1f", "title": "Effect size"}}
  },
  "layer": [
    {"data": {"name": "d"}, "mark": {"type": "line", "interpolate": "monotone", "strokeWidth": 1.7},
     "encoding": {
       "color": {"field": "s", "type": "nominal", "scale": {"domain": ["Malaria−therapy infectivity curve", "Exponential, 180 day duration", "Griffin et al."], "range": ["#9a1b1e", "#1f4f8f", "#3dae6e"]},
         "legend": {"orient": "none", "legendX": 223, "legendY": -89, "columns": 1, "title": null, "labelOffset": -41, "rowPadding": 6}},
       "strokeDash": {"field": "s", "type": "nominal", "scale": {"domain": ["Malaria−therapy infectivity curve", "Exponential, 180 day duration", "Griffin et al."], "range": [[11, 5], [1, 0], [2.5, 2.5]]}}
     }},
    {"data": {"values": [{"m": 4.5, "m2": 7.55, "v": 2.398}]}, "mark": {"type": "rule", "color": "#222", "strokeWidth": 1.3}, "encoding": {"x2": {"field": "m2"}}},
    {"data": {"values": [{"m": 4.5, "v": 2.398, "e": "l"}, {"m": 7.55, "v": 2.398, "e": "r"}]}, "mark": {"type": "point", "filled": true, "color": "#222", "size": 14, "opacity": 1},
     "encoding": {"shape": {"field": "e", "type": "nominal", "scale": {"domain": ["l", "r"], "range": ["triangle-left", "triangle-right"]}, "legend": null}}},
    {"data": {"values": [{"m": 6.0, "v": 2.505, "t": "High season"}]}, "mark": {"type": "text", "fontSize": 14, "color": "#000"}, "encoding": {"text": {"field": "t"}}}
  ]
}
]
}
